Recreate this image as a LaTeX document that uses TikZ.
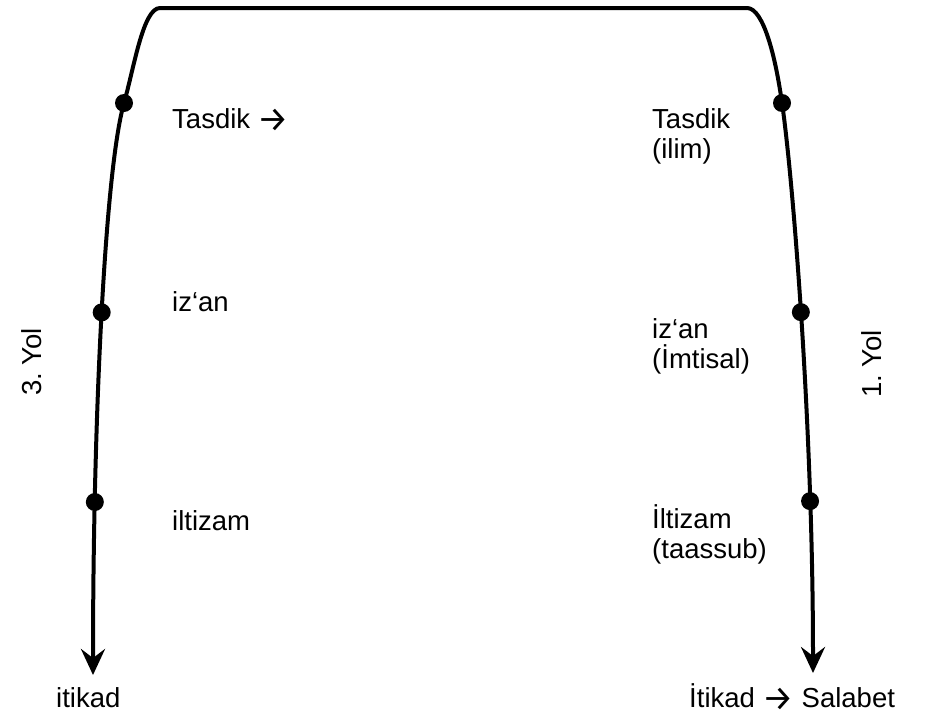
\documentclass[tikz,border=0pt]{standalone}
\usepackage{fontspec}
\setmainfont{Liberation Sans}
\newfontfamily\arrowfont{Fira Sans}
\newcommand{\rarr}{\raisebox{-3pt}[0pt][0pt]{\arrowfont\fontsize{35}{35}\selectfont →}}
\frenchspacing
\usetikzlibrary{arrows.meta}
\begin{document}
\begin{tikzpicture}[x=1pt,y=-1pt,
  pathline/.style={line width=4pt, line join=round},
  dot/.style={circle, fill=black, inner sep=0pt, minimum size=18pt},
  lbl/.style={font=\fontsize{27.5}{30}\selectfont, inner sep=0pt, anchor=base west, align=left},
  yol/.style={font=\fontsize{27.5}{30}\selectfont, inner sep=0pt, rotate=90}]
\useasboundingbox (0,0) rectangle (925,720);
\draw[pathline, {Stealth[length=26pt,width=24pt,inset=9pt]}-{Stealth[length=26pt,width=24pt,inset=9pt]}]
  (93,675) .. controls (93,420) and (105,170) .. (124,103)
    node[dot, pos=0.23] (l3) {} node[dot, pos=0.51] (l2) {} node[dot, pos=1] (l1) {}
  .. controls (134,68) and (143,8) .. (160,8) -- (747,8)
  .. controls (764,8) and (776,60) .. (782,103)
  .. controls (792,170) and (813,420) .. (813,673)
    node[dot, pos=0] (r1) {} node[dot, pos=0.49] (r2) {} node[dot, pos=0.77] (r3) {};
\node[lbl] (t1) at (172,128) {Tasdik \rarr};
\node[lbl] (t2) at (172,311) {iz‘an};
\node[lbl] (t3) at (172,530) {iltizam};
\node[lbl] (t4) at (56,707) {itikad};
\node[lbl] (s1) at (652,158) {Tasdik\\(ilim)};
\node[lbl] (s2) at (652,368) {iz‘an\\(İmtisal)};
\node[lbl] (s3) at (652,558) {İltizam\\(taassub)};
\node[lbl] (s4) at (689,707) {İtikad \rarr{} Salabet};
\node[yol] (y3) at (32,362) {3. Yol};
\node[yol] (y1) at (872,364) {1. Yol};
\end{tikzpicture}
\end{document}
